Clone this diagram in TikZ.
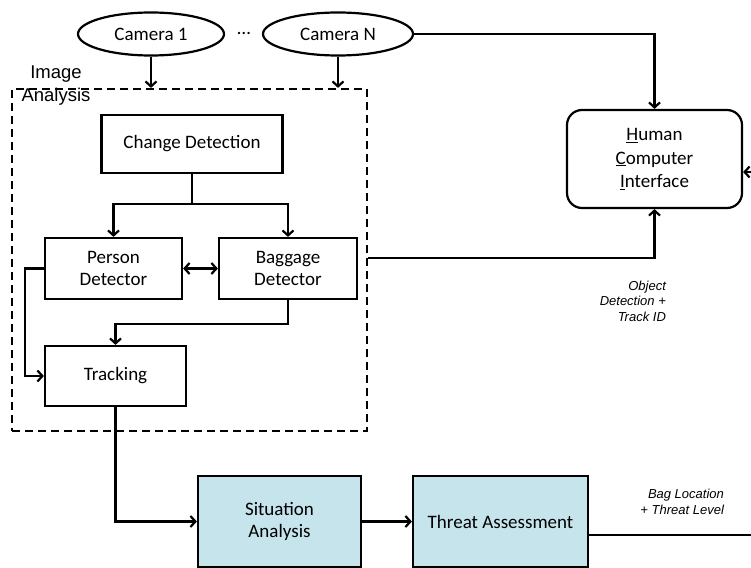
\documentclass[tikz,border=0pt]{standalone}
\usepackage{fontspec}
\setmainfont{Carlito}
\newfontfamily\arialfont{Liberation Sans}
\usepackage{xcolor}
\usepackage{tikz}
\usetikzlibrary{
    arrows.meta,
    shapes.geometric
}
\definecolor{paleblue}{RGB}{198,228,236}

\begin{document}
\begin{tikzpicture}[x=1pt,y=-1pt,->,>={Straight Barb[length=5pt,width=11pt]},line width=2.2pt,
    font=\fontsize{19}{22}\selectfont]
    \tikzstyle{camera}=[draw, ellipse, minimum height=43pt, inner sep=0pt]
    \tikzstyle{block}=[draw, rectangle, align=center, inner sep=2pt]
    \tikzstyle{stage}=[block, fill=paleblue]
    \tikzstyle{note}=[font=\arialfont\itshape\fontsize{13}{15.5}\selectfont, align=right, anchor=east, inner sep=0pt]

    \useasboundingbox (0,0) rectangle (751,567);

    \node[camera, minimum width=146pt] (C1) at (151, 34) {Camera 1};
    \node[camera, minimum width=150pt] (CN) at (338, 34) {Camera N};
    \node (dots) at (244, 33) {\dots};

    \node[draw, dash pattern=on 8pt off 5pt, minimum width=355pt, minimum height=342pt] (IA) at (189.5, 260) {};
    \node[align=center, inner sep=0pt, font=\arialfont\fontsize{18.5}{23}\selectfont] (IAlabel) at (56, 86) {Image\\Analysis};

    \node[block, minimum width=181pt, minimum height=58pt] (CD) at (192, 144) {Change Detection};
    \node[block, minimum width=137pt, minimum height=61pt] (PD) at (113.5, 268.5) {Person\\Detector};
    \node[block, minimum width=138pt, minimum height=61pt] (BD) at (288, 268.5) {Baggage\\Detector};
    \node[block, minimum width=141pt, minimum height=60pt] (TR) at (115.5, 376) {Tracking};

    \node[stage, minimum width=163pt, minimum height=91pt] (SA) at (279.5, 521.5) {Situation\\Analysis};
    \node[stage, minimum width=175pt, minimum height=91pt] (TA) at (500.5, 521.5) {Threat Assessment};

    \node[draw, rounded corners=15pt, align=center, font=\fontsize{19}{23.5}\selectfont,
        minimum width=175pt, minimum height=98pt] (HCI) at (654.5, 159)
        {\underline{H}uman\\\underline{C}omputer\\\underline{I}nterface};

    \node[note] (objnote) at (667, 301) {Object\\Detection +\\Track ID};
    \node[note] (bagnote) at (725, 502) {Bag Location\\+ Threat Level};

    % cameras
    \draw (C1.south) -- (C1.south |- IA.north);
    \draw (CN.south) -- (CN.south |- IA.north);
    \draw (CN.east) -| (HCI.north);

    % inside image analysis
    \coordinate (split) at (192, 204);
    \draw[-] (CD.south) -- (split);
    \draw (split) -| (PD.north);
    \draw (split) -| (BD.north);
    \draw[<->] (PD.east) -- (BD.west);
    \draw (BD.south) -- ++(0, 24) -| (TR.north);
    \draw (PD.west) -- ++(-19, 0) |- (TR.west);

    % outputs
    \draw ([yshift=2pt]IA.east) -| (HCI.south);
    \draw (TR.south) |- (SA.west);
    \draw (SA.east) -- (TA.west);
    \draw ([yshift=-13.5pt]TA.east) -- (765, 535) |- ([yshift=-13pt]HCI.east);
\end{tikzpicture}
\end{document}
